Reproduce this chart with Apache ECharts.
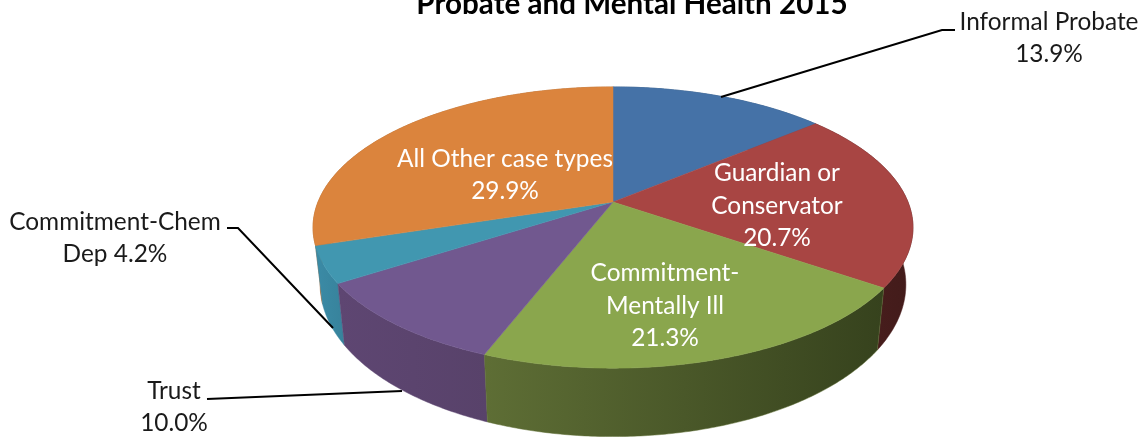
<!DOCTYPE html>
<html>
<head>
<meta charset="utf-8">
<title>Probate and Mental Health 2015</title>
<style>
    html, body { margin: 0; padding: 0; background: #fff; }
    #main { width: 1145px; height: 437px; }
</style>
<script src="https://cdn.jsdelivr.net/npm/echarts@6/dist/echarts.min.js"></script>
</head>
<body>
<div id="main"></div>
<script>
var chartTitle = 'Probate and Mental Health 2015';
var categories = ['Informal Probate', 'Guardian or\nConservator', 'Commitment-\nMentally Ill', 'Trust', 'Commitment-Chem\nDep', 'All Other case types'];
var values = [13.9, 20.7, 21.3, 10.0, 4.2, 29.9];
var labelSeparators = ['\n', '\n', '\n', '\n', ' ', '\n'];

var topColors = ['#4572a7', '#a84543', '#8aa64d', '#71588f', '#4197b0', '#db843d'];
var wallColors = [
    ['#2f5078', '#2f5078'],
    ['#4f2120', '#421b1a'],
    ['#5e6e35', '#36421d'],
    ['#5e4672', '#58426a'],
    ['#3b8ba6', '#37829b'],
    ['#a8652f', '#a8652f']
];
var labelColors = ['#1a1a1a', '#fff', '#fff', '#1a1a1a', '#1a1a1a', '#fff'];
var labelCenters = [[1049, 38], [777, 206], [665, 306], [174, 407], [115, 238], [505, 175]];
var leaderLines = [
    [[721, 97], [942, 30], [955, 30]],
    [[227, 228], [238, 228], [333, 328]],
    [[207, 399], [402, 391]]
];

// perspective of the disc: top face and the smaller, lower bottom face
var topFace = { cx: 613, cy: 202, a: 295, b: 136 };
var bottomFace = { cx: 613, cy: 257, a: 288, b: 147 };
var tilt = 0.1815;

var total = 0;
for (var i = 0; i < values.length; i++) {
    total += values[i];
}

function project(face, angle) {
    var u = Math.sin(angle);
    var v = -Math.cos(angle);
    var w = 1 - tilt * v;
    return [face.cx + face.a * u / w, face.cy + face.b * v / w];
}

function sliceAngles(index) {
    var before = 0;
    for (var i = 0; i < index; i++) {
        before += values[i];
    }
    return [before / total * Math.PI * 2, (before + values[index]) / total * Math.PI * 2];
}

function arcPoints(face, start, end) {
    var pts = [];
    var steps = Math.max(2, Math.ceil((end - start) / 0.01));
    for (var i = 0; i <= steps; i++) {
        pts.push(project(face, start + (end - start) * i / steps));
    }
    return pts;
}

function renderWall(params) {
    var a = sliceAngles(params.dataIndex);
    var pts = arcPoints(topFace, a[0], a[1]).concat(arcPoints(bottomFace, a[0], a[1]).reverse());
    var c = wallColors[params.dataIndex];
    return {
        type: 'polygon',
        z2: Math.round(-Math.cos((a[0] + a[1]) / 2) * 100),
        shape: { points: pts },
        style: {
            fill: new echarts.graphic.LinearGradient(0, 0, 1, 0, [
                { offset: 0, color: c[0] },
                { offset: 1, color: c[1] }
            ]),
            stroke: c[0],
            lineWidth: 0.5
        }
    };
}

function renderTop(params) {
    var a = sliceAngles(params.dataIndex);
    var pts = [[topFace.cx, topFace.cy]].concat(arcPoints(topFace, a[0], a[1]));
    return {
        type: 'polygon',
        shape: { points: pts },
        style: { fill: topColors[params.dataIndex], stroke: topColors[params.dataIndex], lineWidth: 0.5 }
    };
}

function renderLabel(params) {
    var i = params.dataIndex;
    return {
        type: 'text',
        x: labelCenters[i][0],
        y: labelCenters[i][1],
        style: {
            text: categories[i] + labelSeparators[i] + values[i].toFixed(1) + '%',
            fill: labelColors[i],
            fontFamily: 'Lato',
            fontSize: 24.4,
            lineHeight: 32.5,
            align: 'center',
            verticalAlign: 'middle'
        }
    };
}

var sliceData = [];
for (var i = 0; i < values.length; i++) {
    sliceData.push({ name: categories[i], value: values[i] });
}

var graphicLines = [];
for (var i = 0; i < leaderLines.length; i++) {
    graphicLines.push({
        type: 'polyline',
        z: 20,
        shape: { points: leaderLines[i] },
        style: { stroke: '#000', lineWidth: 2, fill: 'none' }
    });
}

var chart = echarts.init(document.getElementById('main'));
var option = {
    animation: false,
    backgroundColor: '#fff',
    title: {
        text: chartTitle,
        left: 627,
        top: -16,
        textAlign: 'center',
        textStyle: { fontFamily: 'Lato', fontWeight: 'bold', fontSize: 29.6, color: '#000' }
    },
    graphic: graphicLines,
    series: [
        { type: 'custom', coordinateSystem: 'none', z: 1, silent: true, data: sliceData, renderItem: renderWall },
        { type: 'custom', coordinateSystem: 'none', z: 2, silent: true, data: sliceData, renderItem: renderTop },
        { type: 'custom', coordinateSystem: 'none', z: 30, silent: true, data: sliceData, renderItem: renderLabel }
    ]
};
chart.setOption(option);
</script>
</body>
</html>
